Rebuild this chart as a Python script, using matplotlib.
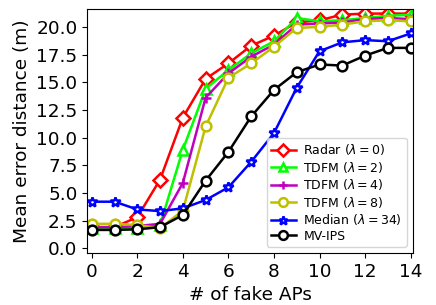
import matplotlib
matplotlib.use('Agg')
import matplotlib.pyplot as plt

fake_aps = list(range(15))

radar = [1.9, 1.9, 2.8, 6.2, 11.8, 15.3, 16.7, 18.3, 19.2, 20.4, 20.6, 21.1, 21.2, 21.2, 21.2]
tdfm2 = [1.8, 1.8, 1.8, 2.1, 8.9, 14.4, 16.1, 17.6, 18.7, 20.8, 20.5, 20.6, 20.8, 21.0, 21.1]
tdfm4 = [1.9, 1.9, 2.0, 2.2, 5.9, 13.6, 15.8, 17.3, 18.4, 20.2, 20.3, 20.4, 20.7, 20.8, 20.7]
tdfm8 = [2.2, 2.2, 2.1, 1.8, 3.4, 11.0, 15.4, 16.7, 18.2, 19.9, 20.0, 20.2, 20.5, 20.6, 20.5]
median = [4.2, 4.2, 3.5, 3.35, 3.6, 4.35, 5.5, 7.8, 10.4, 14.5, 17.8, 18.6, 18.8, 18.7, 19.4]
mvips = [1.65, 1.65, 1.7, 1.9, 3.0, 6.1, 8.7, 11.9, 14.3, 15.9, 16.6, 16.5, 17.4, 18.1, 18.1]

fig = plt.figure(figsize=(4.36, 3.05), dpi=100)
ax = fig.add_axes([0.2, 0.17, 0.747, 0.8])

style = dict(ms=7, mew=1.8, lw=1.8)
ax.plot(fake_aps, radar, color='red', marker='D', mfc='white', label=r'Radar ($\lambda=0$)', **style)
ax.plot(fake_aps, tdfm2, color='lime', marker='^', mfc='white', label=r'TDFM ($\lambda=2$)', **style)
ax.plot(fake_aps, tdfm4, color='m', marker='+', label=r'TDFM ($\lambda=4$)', **style)
ax.plot(fake_aps, tdfm8, color='y', marker='o', mfc='white', label=r'TDFM ($\lambda=8$)', **style)
ax.plot(fake_aps, median, color='blue', marker='*', mfc='white', label=r'Median ($\lambda=34$)', **style)
ax.plot(fake_aps, mvips, color='black', marker='o', mfc='white', label='MV-IPS', **style)

ax.set_xlim(-0.2, 14.1)
ax.set_ylim(-0.45, 21.6)
ax.set_xticks(range(0, 15, 2))
ax.set_yticks([0, 2.5, 5, 7.5, 10, 12.5, 15, 17.5, 20])
ax.set_yticklabels(['0.0', '2.5', '5.0', '7.5', '10.0', '12.5', '15.0', '17.5', '20.0'])
ax.tick_params(labelsize=13.3)
ax.set_xlabel('# of fake APs', fontsize=13.3)
ax.set_ylabel('Mean error distance (m)', fontsize=13.3)
ax.legend(loc='lower right', fontsize=9.0, markerscale=0.9, labelspacing=0.2,
          handlelength=2.0, handletextpad=0.6, borderpad=0.35)

fig.savefig('out.png', dpi=100)
